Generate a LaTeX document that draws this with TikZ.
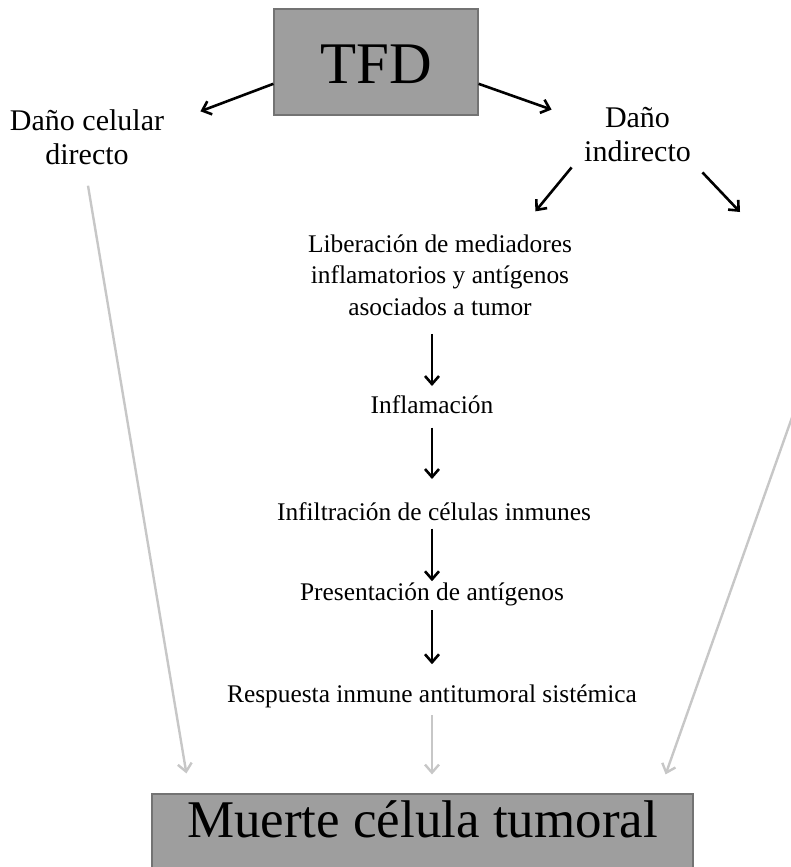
\documentclass[tikz,border=0pt]{standalone}
\usepackage{fontspec}
\setmainfont{Liberation Serif}
\usetikzlibrary{arrows.meta}

\begin{document}
\begin{tikzpicture}[x=0.5pt,y=-0.5pt]
\tikzstyle{greybox}=[fill=black!38,draw=black!55,line width=0.6pt,inner sep=0pt,anchor=base]
\tikzstyle{toplabel}=[inner sep=0pt,align=center,font=\fontsize{15}{17}\selectfont]
\tikzstyle{chainlabel}=[inner sep=0pt,align=center,font=\fontsize{12.7}{15.75}\selectfont]
\tikzstyle{blackarrow}=[line width=1.3pt,-{Straight Barb[length=4pt,width=7pt]}]
\tikzstyle{greyarrow}=[line width=1.2pt,black!22,-{Straight Barb[length=4pt,width=7pt]}]

\useasboundingbox (0,0) rectangle (791,867);

\node[greybox,minimum width=102pt,text height=37pt,text depth=16pt,font=\fontsize{29.5}{32}\selectfont] (tfd) at (376,83) {TFD};
\node[toplabel] (direct) at (87,136.75) {Daño celular\\directo};
\node[toplabel] (indirect) at (637.5,134.75) {Daño\\indirecto};
\node[chainlabel] (lib) at (440,274.9) {Liberación de mediadores\\inflamatorios y antígenos\\asociados a tumor};
\node[chainlabel,anchor=base] (infl) at (432,413) {Inflamación};
\node[chainlabel,anchor=base] (infil) at (434,520) {Infiltración de células inmunes};
\node[chainlabel,anchor=base] (pres) at (432,600) {Presentación de antígenos};
\node[chainlabel,anchor=base] (resp) at (432,702) {Respuesta inmune antitumoral sistémica};
\node[greybox,minimum width=270.5pt,text height=21.5pt,text depth=21.5pt,font=\fontsize{26.5}{30}\selectfont] (muerte) at (422.5,837) {Muerte célula tumoral};
\coordinate (offright) at (740,212);
\coordinate (offright2) at (795,409);

\draw[blackarrow] (tfd.192) -- ([xshift=18pt,yshift=-1.25pt]direct.north east);
\draw[blackarrow] (tfd.-12) -- ([xshift=-16.1pt,yshift=-1.25pt]indirect.north west);
\draw[blackarrow] ([xshift=-6.1pt,yshift=-2.5pt]indirect.south west) -- ([xshift=-18.45pt,yshift=11.35pt]lib.north east);
\draw[blackarrow] ([xshift=5.6pt,yshift=-5pt]indirect.south east) -- (offright);

\draw[blackarrow,shorten <=9pt,shorten >=4.35pt] (lib.south -| infl.north) -- (infl.north);
\draw[blackarrow,shorten <=7pt,shorten >=11.35pt] (infl.south) -- (infl.south |- infil.north);
\draw[blackarrow,shorten <=4pt,shorten >=0.35pt] (infil.south -| pres.north) -- (pres.north);
\draw[blackarrow,shorten <=2.25pt,shorten >=9.85pt] (pres.south) -- (resp.north);

\draw[greyarrow] ([xshift=0.5pt,yshift=-10.5pt]direct.south) -- ([xshift=17.5pt,yshift=10pt]muerte.north west);
\draw[greyarrow,shorten <=3.75pt,shorten >=9.5pt] (resp.south) -- (resp.south |- muerte.north);
\draw[greyarrow] (offright2) -- ([xshift=-14pt,yshift=9.5pt]muerte.north east);
\end{tikzpicture}
\end{document}
